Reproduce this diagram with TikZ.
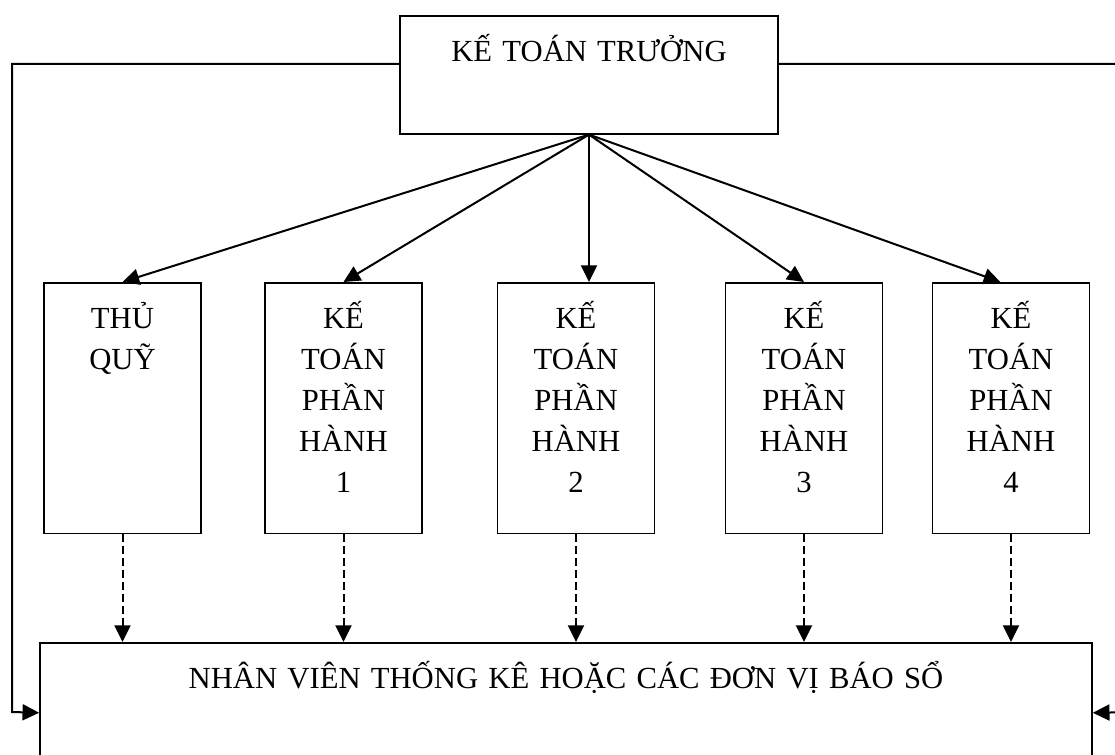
\documentclass[tikz,border=0pt]{standalone}
\usepackage{fontspec}
\setmainfont{Liberation Serif}
\usetikzlibrary{arrows.meta}

\begin{document}
\begin{tikzpicture}[x=0.75pt,y=-0.75pt,
  box/.style={draw, line width=1.2pt, inner sep=0pt, anchor=north, align=center,
    font=\fontsize{23}{30.75}\selectfont},
  part/.style={box, text width=117.75pt, text height=34pt, text depth=154pt},
  link/.style={line width=1.5pt, -{Triangle[length=12.5pt,width=12pt]}},
  report/.style={link, dash pattern=on 5.5pt off 3.5pt}]
\useasboundingbox (0,0) rectangle (1115,755);

% chief accountant
\node[box, text width=283.5pt, text height=34.5pt, text depth=54pt]
  (ktt) at (589,15) {KẾ TOÁN TRƯỞNG};

% staff
\node[part] (quy) at (122.5,282) {THỦ\\QUỸ};
\node[part] (kt1) at (343.5,282) {KẾ\\TOÁN\\PHẦN\\HÀNH\\1};
\node[part] (kt2) at (576,282) {KẾ\\TOÁN\\PHẦN\\HÀNH\\2};
\node[part] (kt3) at (804,282) {KẾ\\TOÁN\\PHẦN\\HÀNH\\3};
\node[part] (kt4) at (1011,282) {KẾ\\TOÁN\\PHẦN\\HÀNH\\4};

% reporting units
\node[box, text width=789pt, text height=34.5pt, text depth=70.5pt]
  (nv) at (566,642) {NHÂN VIÊN THỐNG KÊ HOẶC CÁC ĐƠN VỊ BÁO SỔ};

\coordinate (lft) at (12,712);
\coordinate (rgt) at (1140,712);

\draw[link] (ktt.south) -- (quy.north);
\draw[link] (ktt.south) -- (kt1.north);
\draw[link] (ktt.south) -- (kt2.north -| ktt.south);
\draw[link] (ktt.south) -- (kt3.north);
\draw[link] (ktt.south) -- ([xshift=-8pt]kt4.north);

\foreach \n in {quy,kt1,kt2,kt3,kt4}
  \draw[report] (\n.south) -- (\n.south |- nv.north);

\draw[link] ([yshift=8.25pt]ktt.west) -| (lft) -- (nv.west);
\draw[link] ([yshift=8.25pt]ktt.east) -| (rgt) -- (nv.east);
\end{tikzpicture}
\end{document}
